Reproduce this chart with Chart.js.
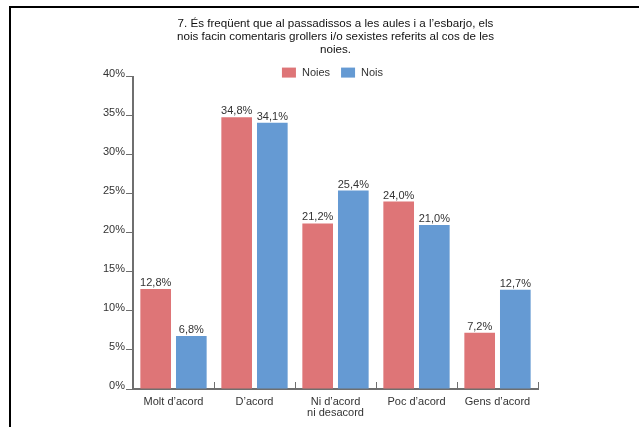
<!DOCTYPE html>
<html>
<head>
<meta charset="utf-8">
<script src="https://cdn.jsdelivr.net/npm/chart.js@4"></script>
<style>
  html, body { margin: 0; padding: 0; background: #fff; overflow: hidden; }
  #wrap { position: relative; width: 639px; height: 427px; }
  #frame { position: absolute; left: 9px; top: 6px; width: 700px; height: 500px;
           border-top: 2px solid #000; border-left: 2px solid #000; pointer-events: none; }
  canvas { position: absolute; left: 0; top: 0; }
</style>
</head>
<body>
<div id="wrap">
  <canvas id="c" width="639" height="427"></canvas>
  <div id="frame"></div>
</div>
<script>
const titleLines = [
  "7. És freqüent que al passadissos a les aules i a l’esbarjo, els",
  "nois facin comentaris grollers i/o sexistes referits al cos de les",
  "noies."
];
const categories = [
  "Molt d’acord",
  "D’acord",
  ["Ni d’acord", "ni desacord"],
  "Poc d’acord",
  "Gens d’acord"
];
const seriesNames = ["Noies", "Nois"];
const noies = [12.8, 34.8, 21.2, 24.0, 7.2];
const nois  = [6.8, 34.1, 25.4, 21.0, 12.7];
const yTicks = [0, 5, 10, 15, 20, 25, 30, 35, 40];

const FONT = '"Liberation Sans", Arial, Helvetica, sans-serif';
const TXT = '#333';
const AXIS = '#6f6f6f';

const fmt = v => v.toFixed(1).replace('.', ',') + '%';

const valueLabels = {
  id: 'valueLabels',
  afterDatasetsDraw(chart) {
    const ctx = chart.ctx;
    ctx.save();
    ctx.font = '11px ' + FONT;
    ctx.fillStyle = TXT;
    ctx.textAlign = 'center';
    ctx.textBaseline = 'alphabetic';
    chart.data.datasets.forEach((ds, di) => {
      chart.getDatasetMeta(di).data.forEach((bar, i) => {
        ctx.fillText(fmt(ds.data[i]), bar.x, bar.y - 3);
      });
    });
    ctx.restore();
  }
};

const topLegend = {
  id: 'topLegend',
  afterDraw(chart) {
    const ctx = chart.ctx, ca = chart.chartArea;
    ctx.save();
    ctx.font = '11px ' + FONT;
    ctx.textBaseline = 'middle';
    ctx.textAlign = 'left';
    const boxW = 14, boxH = 10, gap = 6, itemGap = 11;
    const items = chart.data.datasets.map(ds => ({ label: ds.label, color: ds.backgroundColor, w: ctx.measureText(ds.label).width }));
    const total = items.reduce((s, it) => s + boxW + gap + it.w, 0) + itemGap * (items.length - 1);
    let x = (ca.left + ca.right) / 2 - total / 2 - 3;
    const cy = ca.top - 4;
    items.forEach(it => {
      ctx.fillStyle = it.color;
      ctx.fillRect(x, cy - boxH / 2, boxW, boxH);
      ctx.fillStyle = TXT;
      ctx.fillText(it.label, x + boxW + gap, cy);
      x += boxW + gap + it.w + itemGap;
    });
    ctx.restore();
  }
};

new Chart(document.getElementById('c'), {
  type: 'bar',
  data: {
    labels: categories,
    datasets: [
      { label: seriesNames[0], data: noies, backgroundColor: '#DE7577', categoryPercentage: 0.88, barPercentage: 0.86 },
      { label: seriesNames[1], data: nois,  backgroundColor: '#659AD3', categoryPercentage: 0.88, barPercentage: 0.86 }
    ]
  },
  options: {
    responsive: false,
    animation: false,
    devicePixelRatio: 1,
    layout: { padding: { left: 0, right: 101, top: 0, bottom: 0 } },
    plugins: {
      legend: { display: false },
      tooltip: { enabled: false },
      title: {
        display: true,
        text: titleLines,
        fullSize: false,
        color: '#111',
        font: { family: FONT, size: 11.6, weight: 'normal', lineHeight: 1.08 },
        padding: { top: 18, bottom: 21 }
      }
    },
    scales: {
      x: {
        ticks: { color: TXT, font: { family: FONT, size: 11, lineHeight: 1.0 }, padding: 14, maxRotation: 0, autoSkip: false },
        grid: { offset: true, drawOnChartArea: false, drawTicks: true, tickLength: -7, color: AXIS, lineWidth: 1 },
        border: { color: AXIS, width: 2 },
        afterFit: s => { s.height = 38; }
      },
      y: {
        min: 0, max: 40,
        afterBuildTicks: s => { s.ticks = yTicks.map(v => ({ value: v })); },
        ticks: { color: TXT, font: { family: FONT, size: 11 }, padding: 1, labelOffset: -3, callback: v => v + '%' },
        grid: { drawOnChartArea: false, drawTicks: true, tickLength: 7, color: AXIS, lineWidth: 1 },
        border: { color: AXIS, width: 2 },
        afterFit: s => { s.width = 133; }
      }
    }
  },
  plugins: [valueLabels, topLegend]
});
</script>
</body>
</html>
